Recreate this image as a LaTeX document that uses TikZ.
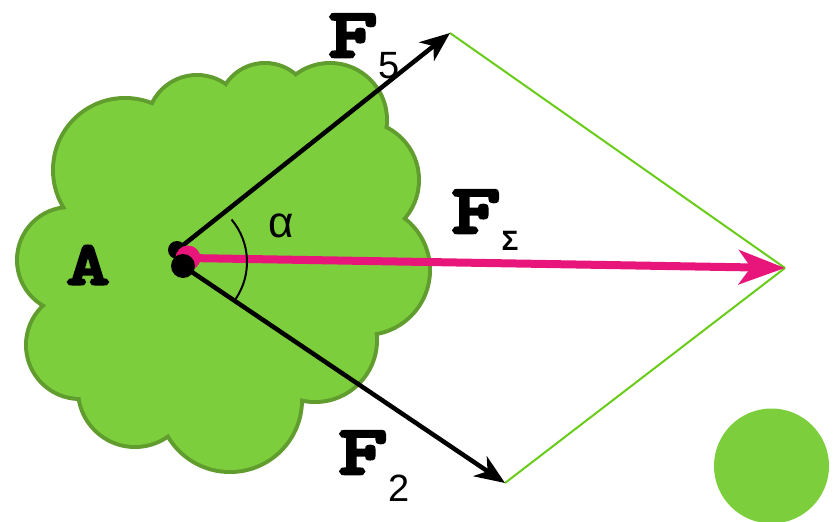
\documentclass[tikz,border=0pt]{standalone}
\usepackage{fontspec}
\usepackage{xcolor}
\usepackage{tikz}
\usetikzlibrary{arrows.meta}
\newfontfamily\plainfont{Liberation Sans}
\newfontfamily\typefont{lmmonolt10-bold.otf}[FakeBold=4,FakeStretch=1.35]
\definecolor{bodygreen}{RGB}{125,206,60}
\definecolor{bodyedge}{RGB}{96,156,46}
\definecolor{rulegreen}{RGB}{104,204,24}
\definecolor{sumpink}{RGB}{232,22,122}
% puffs of the body: x/y/radius
\def\puffs{125/170/70, 70/260/51, 80/345/52, 135/390/55, 230/400/70, 315/340/60,
  365/270/63, 360/180/57, 330/120/55, 265/110/45, 197/125/48}

\begin{document}
\begin{tikzpicture}[x=1pt,y=-1pt,
  ball/.style={circle,fill=bodygreen,inner sep=0pt,minimum size=115pt},
  dot/.style={circle,fill=black,inner sep=0pt,minimum size=#1},
  pinkdot/.style={circle,fill=sumpink,inner sep=0pt,minimum size=25pt},
  force/.style={-{Stealth[length=30pt,width=24pt,inset=9pt]},line width=4.5pt},
  result/.style={-{Stealth[length=46pt,width=34pt,inset=12pt]},line width=8pt,color=sumpink},
  side/.style={rulegreen,line width=2pt},
  bigF/.style={inner sep=0pt,text height=44pt,text depth=0pt,font=\typefont\fontsize{70}{70}\selectfont},
  sub/.style={inner sep=0pt,font=\plainfont\fontsize{38}{38}\selectfont}]
\useasboundingbox (0,0) rectangle (833,522);
% body A
\foreach \x/\y/\r in \puffs
  \draw[bodyedge,line width=8pt] (\x,\y) circle (\r);
\foreach \x/\y/\r in \puffs
  \fill[bodygreen] (\x,\y) circle (\r);
\fill[bodygreen] (224,267) circle (140);
\node[ball] (ball) at (771.5,466) {};
% points of the force diagram
\coordinate (o5) at (177,250);
\coordinate (os) at (188,258);
\coordinate (o2) at (183,266);
\coordinate (t5) at (450,33);
\coordinate (t2) at (505,483);
\coordinate (ts) at (785,268);
\draw[side] (t5) -- (ts);
\draw[side] (t2) -- (ts);
\draw[force] (o5) -- (t5);
\draw[force] (o2) -- (t2);
\draw[result] (os) -- (ts);
\node[dot=18pt] (d5) at (o5) {};
\node[pinkdot] (ds) at (os) {};
\node[dot=24pt] (d2) at (o2) {};
\draw[line width=2pt] (181,262) ++(-40:66) arc[start angle=-40,end angle=34,radius=66];
% labels
\node[inner sep=0pt,font=\plainfont\fontsize{44}{44}\selectfont] (alpha) at (281,226) {α};
\node[inner sep=0pt,font=\typefont\fontsize{62}{62}\selectfont] (A) at (88,265) {A};
\node[bigF] (f5) at (353,35) {F};
\node[sub] (s5) at (389,66) {5};
\node[bigF] (fs) at (476,211) {F};
\node[inner sep=0pt,font=\plainfont\bfseries\fontsize{28}{28}\selectfont] (ss) at (510,241) {Σ};
\node[bigF] (f2) at (363,452) {F};
\node[sub] (s2) at (399,488) {2};
\end{tikzpicture}
\end{document}
